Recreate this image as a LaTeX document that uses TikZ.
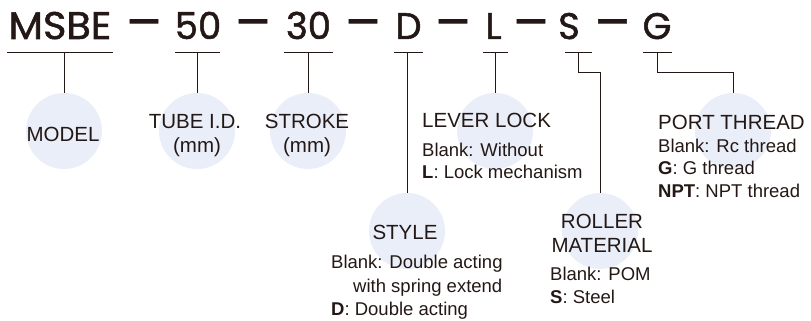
\documentclass[tikz,border=0pt]{standalone}
\usepackage{fontspec}
\setmainfont{Liberation Sans}
\newfontfamily\headfont{Poppins}[FakeBold=1.3]
\definecolor{ink}{HTML}{231815}
\definecolor{bub}{HTML}{E9EEF8}
\begin{document}
\begin{tikzpicture}[x=1pt,y=-1pt,
  hd/.style={font=\headfont\fontsize{37}{37}\selectfont, text=ink, inner sep=0, anchor=base},
  dsh/.style={font=\headfont\fontsize{37}{37}\selectfont, text=ink, inner sep=0, anchor=base},
  ln/.style={draw=ink, line width=1pt},
  bubble/.style={circle, fill=bub, minimum size=76pt, inner sep=0},
  ttl/.style={font=\fontsize{20.5}{24}\selectfont, text=ink, inner sep=0, anchor=base},
  body/.style={font=\fontsize{18.5}{22}\selectfont, text=ink, inner sep=0, anchor=base west},
]
\useasboundingbox (0,0) rectangle (811,321);
% bubbles
\node[bubble] (cM) at (64,131) {};
\node[bubble] (cT) at (197,131) {};
\node[bubble] (cS) at (308,131) {};
\node[bubble] (cL) at (495,131) {};
\node[bubble] (cP) at (733,131) {};
\node[bubble] (cY) at (407,231) {};
\node[bubble] (cR) at (600,231) {};
% header
\node[hd] (hM) at (60,39) {\scalebox{1.08}[1.04]{MSBE}};
\node[dsh] (d1) at (144,39) {\scalebox{1.05}[1.3]{—}};
\node[hd] (h5) at (198,39) {50};
\node[dsh] (d2) at (253,39) {\scalebox{1.05}[1.3]{—}};
\node[hd] (h3) at (308.5,39) {30};
\node[dsh] (d3) at (363,39) {\scalebox{1.05}[1.3]{—}};
\node[hd] (hD) at (408.5,39) {D};
\node[dsh] (d4) at (453,39) {\scalebox{1.05}[1.3]{—}};
\node[hd] (hL) at (493.5,39) {L};
\node[dsh] (d5) at (531,39) {\scalebox{1.05}[1.3]{—}};
\node[hd] (hS) at (569,39) {S};
\node[dsh] (d6) at (612.5,39) {\scalebox{1.05}[1.3]{—}};
\node[hd] (hG) at (657,39) {G};
% bars
\draw[ln] (7,53) -- (113,53);
\draw[ln] (175,53) -- (220,53);
\draw[ln] (284,53) -- (333,53);
\draw[ln] (394,53) -- (423,53);
\draw[ln] (483,53) -- (508,53);
\draw[ln] (565,53) -- (592,53);
\draw[ln] (643,53) -- (672,53);
\coordinate (bM) at (64,53);
\coordinate (b5) at (197,53);
\coordinate (b3) at (308,53);
\coordinate (bD) at (407,53);
\coordinate (bL) at (495,53);
\coordinate (bS) at (578,53);
\coordinate (bG) at (657,53);
% connectors
\draw[ln] (bM) -- (cM.north);
\draw[ln] (b5) -- (cT.north);
\draw[ln] (b3) -- (cS.north);
\draw[ln] (bD) -- (cY.north);
\draw[ln] (bL) -- (cL.north);
\draw[ln] (bS) -- ++(0,20) -| (cR.north);
\draw[ln] (bG) -- ++(0,20) -| (cP.north);
% texts
\node[ttl] (tM) at (63,141) {MODEL};
\node[ttl] (tT1) at (195,128) {TUBE I.D.};
\node[ttl] (tT2) at (197,152) {(mm)};
\node[ttl] (tS1) at (307,128) {STROKE};
\node[ttl] (tS2) at (307,152) {(mm)};
\node[ttl,anchor=base west] (tL) at (422,127) {LEVER LOCK};
\node[body] (tL1) at (422,156.5) {Blank: Without};
\node[body] (tL2) at (422,178.5) {\textbf{L}: Lock mechanism};
\node[ttl,anchor=base west] (tP) at (658,129) {PORT THREAD};
\node[body] (tP1) at (658,152) {Blank: Rc thread};
\node[body] (tP2) at (658,174.5) {\textbf{G}: G thread};
\node[body] (tP3) at (658,197) {\textbf{NPT}: NPT thread};
\node[ttl] (tY) at (405,239) {STYLE};
\node[body] (tY1) at (331,268) {Blank: Double acting};
\node[body] (tY2) at (353,292) {with spring extend};
\node[body] (tY3) at (331,315) {\textbf{D}: Double acting};
\node[ttl] (tR1) at (602,228) {ROLLER};
\node[ttl] (tR2) at (602,252) {MATERIAL};
\node[body] (tR3) at (550,280) {Blank: POM};
\node[body] (tR4) at (550,303) {\textbf{S}: Steel};
\end{tikzpicture}
\end{document}
